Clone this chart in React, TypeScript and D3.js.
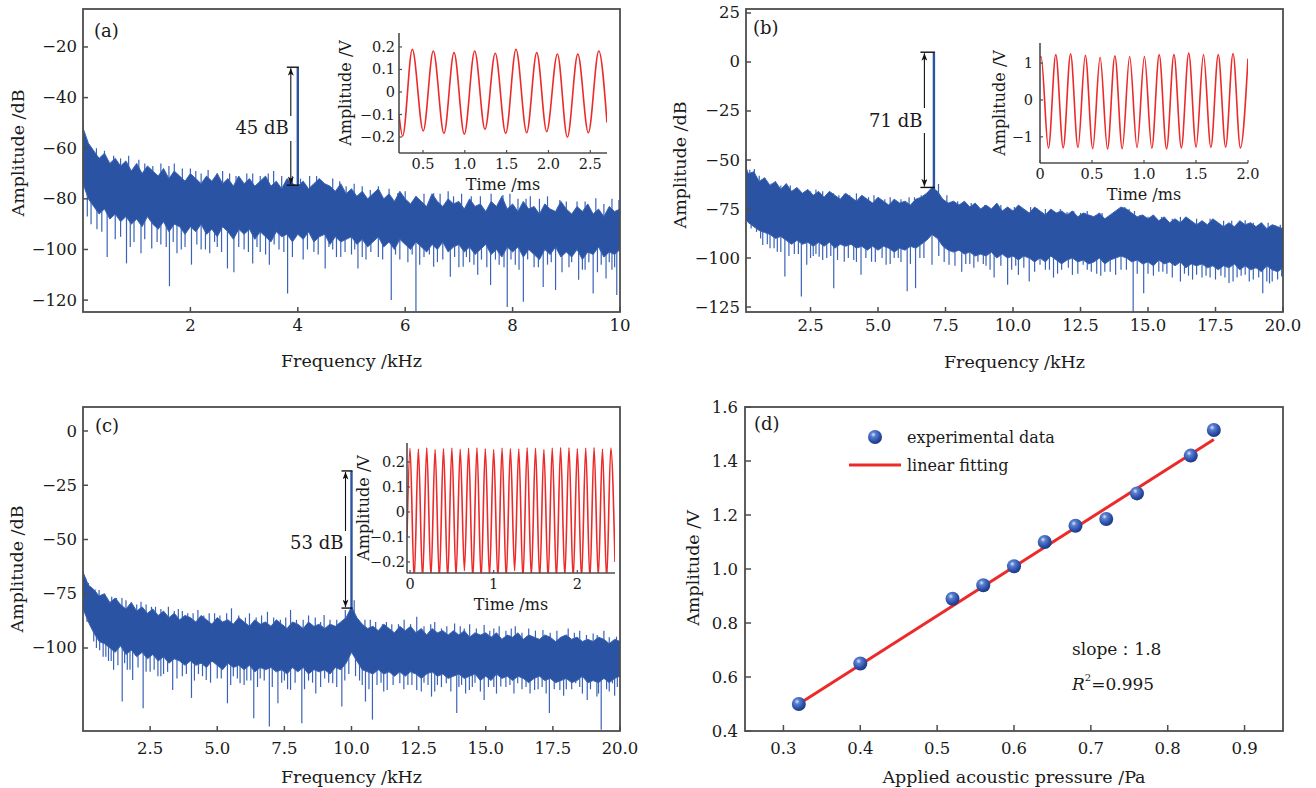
import React from 'react';
import * as d3 from 'd3';

// ---------------- DATA ----------------
// Panel (a): spectrum 0-10 kHz, dense-band envelope sampled every 0.1 kHz
const A_STEP = 0.1;
const A_TOP = [
  -52, -58, -61, -64, -62, -66, -64, -67, -65, -69,
  -66, -70, -67, -69, -71, -68, -72, -69, -71, -73,
  -70, -72, -74, -71, -73, -70, -74, -72, -75, -71,
  -74, -72, -75, -73, -71, -75, -73, -76, -72, -74,
  -75, -73, -76, -74, -72, -74, -75, -77, -74, -78,
  -76, -79, -77, -80, -78, -76, -80, -78, -81, -77,
  -80, -82, -79, -81, -83, -78, -81, -83, -80, -82,
  -81, -84, -80, -83, -82, -85, -81, -83, -79, -84,
  -82, -85, -81, -84, -83, -86, -82, -84, -85, -81,
  -84, -86, -83, -85, -82, -86, -84, -87, -83, -85,
  -84];
const A_BOT = [
  -74, -80, -83, -86, -84, -88, -86, -89, -87, -90,
  -88, -91, -87, -90, -92, -89, -93, -90, -91, -94,
  -91, -93, -90, -94, -92, -95, -91, -93, -96, -92,
  -94, -92, -96, -93, -95, -97, -93, -95, -94, -97,
  -94, -96, -93, -97, -95, -94, -98, -95, -97, -96,
  -95, -98, -96, -99, -97, -95, -99, -97, -100, -96,
  -98, -100, -97, -99, -101, -98, -100, -97, -101, -99,
  -98, -101, -99, -102, -100, -98, -102, -100, -103, -99,
  -101, -99, -103, -100, -102, -104, -100, -102, -99, -103,
  -101, -103, -100, -104, -101, -102, -99, -103, -101, -102,
  -100];
const A_DIPS: [number, number][] = [[0.08, -87], [0.26, -92], [0.45, -103], [0.81, -105.5], [1.08, -101.5], [1.28, -99.6], [1.61, -114.5], [1.75, -101.5], [2.02, -106], [2.36, -101.5], [2.69, -107.5], [2.81, -109], [3.16, -105.5], [3.47, -106], [3.81, -117.4], [4.1, -104], [4.51, -107.5], [4.8, -103], [5.12, -107.5], [5.27, -104], [5.74, -120], [6.2, -124.6], [6.53, -106.8], [6.84, -110.8], [7.08, -106.8], [7.35, -110], [7.59, -114], [7.9, -122.7], [8.2, -120.7], [8.57, -114.8], [8.8, -116], [9.23, -112], [9.5, -117.4], [9.74, -111.5], [9.94, -118],
  [0.6, -96], [0.95, -97], [1.45, -98], [1.9, -99], [2.2, -100], [2.5, -99], [3.0, -100], [3.3, -101], [3.65, -100], [4.3, -101], [4.65, -100], [5.0, -102], [5.5, -103], [5.9, -104], [6.35, -103], [6.7, -104], [7.2, -105], [7.75, -106], [8.05, -106], [8.4, -107], [8.65, -106], [9.05, -107], [9.35, -108], [9.65, -106], [9.85, -108],
  [0.15, -90], [0.35, -93], [0.7, -95], [0.88, -99], [1.15, -96], [1.38, -97], [1.55, -99], [1.68, -97], [1.83, -100], [2.12, -98], [2.28, -100], [2.45, -97], [2.58, -101], [2.9, -99], [3.08, -101], [3.24, -99], [3.4, -102], [3.56, -98], [3.74, -101], [3.9, -103], [4.18, -100], [4.38, -102], [4.58, -99], [4.72, -103], [4.88, -101], [5.06, -100], [5.2, -103], [5.36, -101], [5.58, -104], [5.82, -102], [6.05, -105], [6.13, -102], [6.27, -106], [6.45, -102], [6.6, -105], [6.92, -103], [7.0, -107], [7.14, -103], [7.28, -106], [7.42, -104], [7.52, -107], [7.68, -104], [7.84, -107], [7.97, -104], [8.12, -108], [8.28, -104], [8.48, -107], [8.72, -105], [8.92, -109], [9.1, -105], [9.3, -108], [9.42, -105], [9.58, -109], [9.8, -105], [9.9, -107]];
const A_SPIKES: [number, number][] = [[0.0, -49.4], [0.05, -56], [0.15, -60], [0.57, -63], [1.04, -64.6], [1.3, -67], [1.7, -66], [2.1, -69], [2.33, -68.6], [2.73, -70], [3.16, -70], [3.55, -69], [3.9, -71], [4.22, -71], [4.5, -74], [4.9, -75], [5.35, -76.5], [5.86, -77.8], [6.2, -79], [6.53, -77.8], [6.9, -79], [7.23, -79], [7.82, -78.5], [8.1, -80], [8.33, -79], [8.88, -80.5], [9.2, -81], [9.55, -79.8], [9.98, -80.5],
  [0.25, -60], [0.4, -61], [0.7, -64], [0.85, -63], [1.15, -66], [1.45, -66], [1.6, -67], [1.85, -68], [2.0, -68], [2.2, -70], [2.5, -70], [2.6, -69], [2.85, -71], [3.05, -70], [3.3, -71], [3.45, -70], [3.7, -71], [4.05, -72], [4.35, -71], [4.65, -72], [4.78, -73], [5.05, -74], [5.2, -75], [5.5, -75], [5.7, -76], [6.0, -77], [6.35, -78], [6.65, -78], [6.8, -77], [7.05, -78], [7.4, -79], [7.6, -78], [7.95, -78], [8.25, -80], [8.5, -80], [8.65, -79], [9.0, -81], [9.35, -81], [9.7, -82], [9.85, -80]];

// Panel (b): spectrum 0-20 kHz, envelope every 0.2 kHz
const B_STEP = 0.2;
const B_TOP = [
  -50, -57, -56, -61, -59, -63, -61, -65, -62, -66,
  -64, -67, -65, -68, -66, -69, -66, -68, -70, -67,
  -69, -71, -68, -70, -72, -69, -71, -73, -70, -72,
  -71, -73, -70, -69, -67, -64, -66, -70, -72, -71,
  -73, -71, -74, -72, -75, -73, -75, -72, -76, -74,
  -76, -73, -75, -77, -74, -76, -78, -75, -77, -76,
  -78, -76, -79, -77, -78, -79, -77, -80, -78, -76,
  -74, -75, -77, -79, -78, -80, -78, -81, -79, -82,
  -80, -82, -79, -81, -83, -81, -83, -80, -82, -84,
  -82, -84, -81, -83, -82, -84, -82, -85, -83, -84,
  -85];
const B_BOT = [
  -78, -82, -84, -86, -87, -88, -90, -89, -91, -93,
  -91, -93, -92, -94, -92, -94, -92, -95, -93, -94,
  -93, -95, -94, -96, -94, -96, -94, -95, -97, -95,
  -96, -94, -95, -93, -91, -88, -90, -94, -96, -97,
  -96, -98, -97, -99, -98, -99, -97, -100, -98, -100,
  -99, -101, -99, -100, -102, -100, -102, -99, -101, -103,
  -101, -100, -102, -101, -103, -102, -100, -103, -101, -100,
  -99, -100, -102, -101, -103, -102, -104, -101, -103, -102,
  -104, -102, -105, -103, -104, -103, -105, -104, -106, -104,
  -105, -103, -106, -104, -106, -105, -107, -104, -106, -107,
  -105];
const B_DIPS: [number, number][] = [[0.5, -86.7], [0.73, -93.4], [1.27, -96.8], [1.55, -109.5], [2.16, -119.6], [2.36, -103.5], [2.82, -99.3], [3.36, -115.4], [3.75, -101.9], [4.37, -108.6], [4.76, -101.9], [5.3, -103.5], [6.08, -117], [6.39, -115.4], [7.0, -103.5], [7.63, -103.5], [8.1, -107], [8.7, -101.9], [9.3, -110], [9.8, -113.7], [10.2, -108.6], [10.6, -112], [11.0, -103.5], [11.5, -110], [12.2, -108.6], [12.6, -103.5], [13.4, -107], [13.8, -108.6], [14.45, -127.5], [14.84, -118], [15.4, -107], [16.2, -112], [16.8, -108.6], [17.3, -110], [18.0, -112.8], [18.6, -108.6], [19.25, -118], [19.6, -112], [19.95, -109.5],
  [1.0, -95], [1.9, -98], [2.6, -99], [3.1, -100], [4.1, -101], [5.6, -100], [5.85, -102], [6.7, -100], [8.4, -103], [9.0, -104], [10.4, -105], [11.2, -106], [11.8, -106], [12.9, -107], [13.1, -108], [14.2, -106], [15.0, -108], [15.7, -108], [16.5, -109], [17.0, -110], [17.7, -109], [18.3, -110], [18.9, -111], [19.4, -112],
  [0.3, -85], [0.65, -90], [0.9, -93], [1.15, -95], [1.4, -97], [1.7, -99], [2.05, -98], [2.5, -100], [2.7, -98], [2.95, -101], [3.25, -99], [3.5, -101], [3.9, -100], [4.2, -102], [4.55, -100], [4.9, -102], [5.15, -100], [5.45, -103], [5.75, -100], [6.2, -103], [6.55, -100], [7.25, -99], [7.45, -102], [7.85, -104], [8.25, -103], [8.55, -105], [8.9, -103], [9.15, -106], [9.55, -104], [9.95, -106], [10.1, -104], [10.8, -107], [11.35, -106], [11.65, -108], [12.05, -105], [12.4, -108], [12.75, -106], [13.25, -109], [13.6, -107], [14.0, -106], [14.6, -108], [15.2, -109], [15.55, -107], [15.9, -110], [16.35, -108], [16.65, -111], [17.15, -109], [17.5, -111], [17.85, -110], [18.15, -112], [18.45, -109], [18.75, -112], [19.1, -110], [19.5, -113], [19.8, -111]];
const B_SPIKES: [number, number][] = [[0.12, -49.5], [0.25, -55], [0.42, -54.6], [1.04, -62], [1.58, -64.7], [2.28, -66.4], [3.13, -68], [3.75, -67.2], [4.4, -68.5], [5.0, -69.8], [5.6, -70], [6.15, -69], [6.85, -66.4], [7.24, -62.2], [7.78, -71.5], [8.2, -72], [8.7, -74.8], [9.3, -74], [9.8, -76.5], [10.4, -75], [10.9, -74.8], [11.5, -76], [12.0, -76.5], [12.5, -77], [13.05, -78], [13.6, -78], [14.14, -74], [14.3, -75], [14.7, -78], [15.2, -80.7], [15.9, -80], [16.5, -80], [17.0, -81], [17.55, -81.6], [18.1, -81], [18.6, -80.7], [19.2, -82], [19.7, -83.3],
  [0.6, -58], [0.8, -60], [1.2, -61], [1.4, -63], [1.75, -63], [2.0, -65], [2.5, -66], [2.7, -65], [2.95, -66], [3.35, -67], [3.55, -68], [3.95, -68], [4.2, -67], [4.65, -69], [4.85, -68], [5.25, -70], [5.45, -69], [5.85, -70], [6.35, -69], [6.6, -68], [7.05, -63], [7.55, -68], [7.95, -71], [8.45, -72], [8.95, -73], [9.55, -73], [10.05, -74], [10.65, -74], [11.2, -75], [11.75, -75], [12.25, -76], [12.75, -76], [13.3, -77], [13.85, -76], [14.5, -76], [15.0, -79], [15.5, -79], [16.2, -79], [16.8, -80], [17.3, -80], [17.8, -81], [18.4, -81], [18.9, -82], [19.45, -82], [19.9, -83]];

// Panel (c): spectrum 0-20 kHz, envelope every 0.2 kHz
const C_STEP = 0.2;
const C_TOP = [
  -65, -71, -73, -76, -75, -79, -77, -80, -82, -79,
  -83, -81, -84, -82, -85, -83, -86, -84, -87, -85,
  -86, -88, -85, -87, -89, -86, -88, -87, -89, -86,
  -88, -90, -87, -89, -88, -90, -87, -89, -91, -88,
  -89, -91, -88, -90, -89, -91, -89, -90, -88, -86,
  -81, -86, -89, -91, -90, -92, -89, -91, -93, -90,
  -92, -90, -93, -91, -94, -91, -93, -92, -94, -92,
  -94, -92, -95, -93, -94, -93, -95, -93, -96, -94,
  -95, -93, -96, -94, -95, -96, -94, -95, -97, -95,
  -94, -96, -95, -97, -96, -97, -95, -96, -98, -96,
  -97];
const C_BOT = [
  -82, -88, -93, -97, -98, -100, -102, -99, -103, -101,
  -104, -102, -105, -103, -106, -104, -107, -105, -106, -108,
  -106, -108, -107, -109, -106, -108, -110, -107, -109, -108,
  -110, -108, -111, -109, -110, -109, -111, -110, -112, -109,
  -111, -109, -112, -110, -111, -110, -112, -109, -110, -107,
  -102, -106, -110, -111, -112, -110, -112, -111, -113, -111,
  -113, -111, -112, -114, -112, -111, -113, -112, -114, -113,
  -112, -114, -113, -112, -115, -113, -115, -112, -114, -113,
  -115, -113, -114, -116, -114, -113, -115, -114, -116, -115,
  -114, -116, -115, -113, -116, -115, -116, -114, -116, -114,
  -113];
const C_DIPS: [number, number][] = [[0.28, -90], [0.75, -104], [1.14, -110], [1.46, -124.7], [1.85, -114.7], [2.24, -127.8], [2.79, -113], [3.34, -119.3], [4.04, -123], [4.59, -114.7], [5.38, -125.5], [5.85, -116.3], [6.36, -132.4], [6.94, -136.2], [7.26, -125.5], [7.73, -119.3], [8.15, -134.7], [8.67, -121], [9.3, -116.3], [9.64, -127], [10.52, -124.7], [10.78, -133], [11.33, -119.3], [11.8, -116.3], [12.43, -119.3], [12.98, -122.4], [13.53, -116.3], [13.92, -130], [14.39, -119.3], [14.94, -124], [15.56, -117.8], [16.19, -116.3], [16.82, -119.3], [17.37, -130], [17.76, -119.3], [18.35, -116.3], [18.78, -124], [19.14, -122.4], [19.3, -137.7], [19.72, -116.3],
  [0.5, -100], [0.95, -106], [1.65, -110], [2.5, -111], [3.0, -112], [3.7, -113], [4.3, -112], [5.0, -114], [5.6, -113], [6.1, -115], [6.6, -114], [7.5, -115], [8.4, -115], [9.0, -114], [9.9, -112], [10.3, -115], [11.1, -116], [12.1, -117], [12.7, -116], [13.2, -117], [14.1, -117], [14.6, -116], [15.3, -118], [15.9, -117], [16.5, -118], [17.1, -118], [18.0, -119], [18.5, -118], [19.5, -119], [19.9, -118],
  [0.15, -88], [0.4, -97], [0.62, -101], [0.85, -104], [1.05, -106], [1.3, -108], [1.55, -107], [1.75, -110], [2.05, -109], [2.35, -111], [2.65, -110], [2.9, -113], [3.15, -111], [3.5, -114], [3.85, -112], [4.15, -115], [4.45, -113], [4.75, -116], [5.15, -114], [5.5, -117], [5.75, -114], [6.0, -117], [6.25, -115], [6.5, -118], [6.75, -115], [7.05, -118], [7.4, -116], [7.62, -119], [7.9, -116], [8.25, -119], [8.55, -116], [8.85, -118], [9.15, -116], [9.45, -118], [9.75, -115], [10.15, -113], [10.4, -117], [10.65, -119], [10.95, -117], [11.2, -120], [11.55, -117], [11.95, -119], [12.25, -117], [12.6, -120], [12.85, -117], [13.1, -120], [13.35, -118], [13.7, -120], [14.0, -118], [14.25, -121], [14.5, -118], [14.8, -120], [15.1, -118], [15.4, -121], [15.75, -118], [16.05, -121], [16.35, -119], [16.65, -121], [16.95, -119], [17.25, -121], [17.55, -119], [17.9, -122], [18.2, -119], [18.6, -121], [18.9, -119], [19.2, -121], [19.6, -120], [19.8, -122]];
const C_SPIKES: [number, number][] = [[0.0, -64], [0.1, -68], [0.3, -72], [0.6, -73.3], [1.07, -76.4], [1.6, -78], [2.16, -78.7], [2.7, -81], [3.18, -81], [3.7, -83], [4.28, -82.5], [4.9, -84], [5.53, -81.7], [6.2, -84], [6.87, -83.3], [7.73, -82.5], [8.4, -85], [8.98, -84.8], [9.77, -82.5], [10.1, -78], [10.7, -87], [11.3, -88], [11.96, -87], [12.43, -85.6], [13.1, -88], [13.84, -88.7], [14.4, -89], [14.94, -89.4], [15.5, -90], [16.1, -90], [16.6, -91], [17.13, -91.7], [18.07, -91], [18.5, -92], [19.0, -93.3], [19.4, -92], [19.87, -94.8],
  [0.2, -70], [0.45, -73], [0.8, -75], [1.25, -77], [1.45, -77], [1.8, -79], [2.0, -80], [2.35, -80], [2.55, -81], [2.9, -82], [3.4, -83], [3.55, -82], [3.9, -84], [4.1, -84], [4.5, -85], [4.7, -84], [5.1, -85], [5.35, -84], [5.8, -85], [6.05, -86], [6.45, -86], [6.65, -85], [7.1, -86], [7.35, -87], [7.55, -86], [7.95, -87], [8.2, -87], [8.65, -86], [8.85, -88], [9.2, -87], [9.45, -87], [10.5, -87], [10.9, -88], [11.15, -89], [11.5, -89], [11.75, -89], [12.2, -89], [12.7, -90], [12.95, -89], [13.35, -91], [13.55, -90], [14.05, -90], [14.2, -91], [14.65, -91], [15.15, -92], [15.3, -91], [15.75, -92], [15.95, -91], [16.35, -93], [16.85, -92], [17.4, -93], [17.65, -92], [17.95, -94], [18.3, -93], [18.75, -94], [19.15, -94], [19.6, -95]];

// Signal peaks (a, b, c)
const PEAK_FREQ = [4.0, 7.07, 10.0];
const PEAK_TOP = [-28, 5, -18.4];
const PEAK_BASE = [-74.6, -64, -81.6];
const PEAK_LABEL = ['45 dB', '71 dB', '53 dB'];
const PEAK_LABEL_DB = [-52, -29.6, -51.6];

// Axis ticks
const A_XTICKS = [2, 4, 6, 8, 10];
const A_YTICKS = [-20, -40, -60, -80, -100, -120];
const B_XTICKS = [2.5, 5.0, 7.5, 10.0, 12.5, 15.0, 17.5, 20.0];
const B_YTICKS = [25, 0, -25, -50, -75, -100, -125];
const C_XTICKS = [2.5, 5.0, 7.5, 10.0, 12.5, 15.0, 17.5, 20.0];
const C_YTICKS = [0, -25, -50, -75, -100];

// Inset time signals (extrema of the waveform)
const A_WAVE_T = [0.213, 0.257, 0.372, 0.503, 0.623, 0.751, 0.871, 0.994, 1.118, 1.241, 1.364, 1.489, 1.612, 1.740, 1.860, 1.979, 2.107, 2.226, 2.351, 2.477, 2.602, 2.70];
const A_WAVE_V = [-0.102, -0.196, 0.19, -0.173, 0.182, -0.184, 0.175, -0.187, 0.182, -0.166, 0.172, -0.184, 0.19, -0.181, 0.175, -0.176, 0.169, -0.201, 0.168, -0.181, 0.182, -0.136];
const A_IN_XTICKS = [0.5, 1.0, 1.5, 2.0, 2.5];
const A_IN_XLAB = ['0.5', '1.0', '1.5', '2.0', '2.5'];
const A_IN_YTICKS = [0.2, 0.1, 0, -0.1, -0.2];
const A_IN_YLAB = ['0.2', '0.1', '0', '−0.1', '−0.2'];

const B_WAVE_T = [0, 0.010, 0.081, 0.152, 0.223, 0.294, 0.365, 0.436, 0.507, 0.578, 0.649, 0.720, 0.791, 0.862, 0.933, 1.004, 1.075, 1.146, 1.217, 1.288, 1.359, 1.430, 1.501, 1.572, 1.643, 1.714, 1.785, 1.856, 1.927, 2.0];
const B_WAVE_V = [1.14, 1.18, -1.31, 1.23, -1.30, 1.25, -1.29, 1.21, -1.32, 1.16, -1.33, 1.20, -1.32, 1.18, -1.29, 1.18, -1.31, 1.23, -1.33, 1.23, -1.30, 1.27, -1.28, 1.23, -1.29, 1.23, -1.28, 1.26, -1.30, 1.12];
const B_IN_XTICKS = [0, 0.5, 1.0, 1.5, 2.0];
const B_IN_XLAB = ['0', '0.5', '1.0', '1.5', '2.0'];
const B_IN_YTICKS = [1, 0, -1];
const B_IN_YLAB = ['1', '0', '−1'];

const C_WAVE_T = [-0.036, 0.0, 0.05, 0.1, 0.15, 0.2, 0.25, 0.3, 0.35, 0.4, 0.45, 0.5, 0.55, 0.6, 0.65, 0.7, 0.75, 0.8, 0.85, 0.9, 0.95, 1.0, 1.05, 1.1, 1.15, 1.2, 1.25, 1.3, 1.35, 1.4, 1.45, 1.5, 1.55, 1.6, 1.65, 1.7, 1.75, 1.8, 1.85, 1.9, 1.95, 2.0, 2.05, 2.1, 2.15, 2.2, 2.25, 2.3, 2.35, 2.4, 2.45];
const C_WAVE_V = [-0.10, 0.255, -0.27, 0.252, -0.27, 0.257, -0.26, 0.250, -0.27, 0.254, -0.27, 0.256, -0.26, 0.251, -0.235, 0.255, -0.27, 0.257, -0.27, 0.253, -0.26, 0.250, -0.27, 0.256, -0.27, 0.254, -0.235, 0.252, -0.27, 0.257, -0.26, 0.255, -0.27, 0.250, -0.27, 0.256, -0.27, 0.258, -0.26, 0.257, -0.27, 0.253, -0.27, 0.256, -0.27, 0.258, -0.26, 0.252, -0.27, 0.256, -0.20];
const C_IN_XTICKS = [0, 1, 2];
const C_IN_XLAB = ['0', '1', '2'];
const C_IN_YTICKS = [0.2, 0.1, 0, -0.1, -0.2];
const C_IN_YLAB = ['0.2', '0.1', '0', '−0.1', '−0.2'];

// Panel (d)
const D_PRESSURE = [0.32, 0.40, 0.52, 0.56, 0.60, 0.64, 0.68, 0.72, 0.76, 0.83, 0.86];
const D_AMPLITUDE = [0.50, 0.65, 0.89, 0.94, 1.01, 1.10, 1.16, 1.185, 1.28, 1.42, 1.515];
const D_FIT_X = [0.32, 0.86];
const D_FIT_Y = [0.50, 1.48];
const D_XTICKS = [0.3, 0.4, 0.5, 0.6, 0.7, 0.8, 0.9];
const D_YTICKS = [0.4, 0.6, 0.8, 1.0, 1.2, 1.4, 1.6];

// ---------------- STYLE ----------------
const FONT = "'DejaVu Serif', 'Liberation Serif', serif";
const BAND = '#2b53a3';
const LINE = '#3a63b8';
const RED = '#ec2a2a';
const FRAME = '#4d4d4d';
const TXT = '#1a1a1a';

type Box = { l: number; r: number; t: number; b: number };

const minus = (s: string) => s.replace('-', '−');

function SpecPanel(p: {
  box: Box; xd: [number, number]; yd: [number, number]; step: number; top: number[]; bot: number[];
  dips: [number, number][]; spikes: [number, number][]; xticks: number[]; xdec: number; yticks: number[];
  letter: string; letterPos: [number, number]; k: number; arrowDx: number; clipId: string;
  ylabX: number; ylabY: number; xlabY: number; xtickY: number;
}) {
  const { box, xd, yd, step, top, bot, dips, spikes, xticks, xdec, yticks, k, arrowDx, clipId } = p;
  const x = d3.scaleLinear().domain(xd).range([box.l, box.r]);
  const y = d3.scaleLinear().domain(yd).range([box.b, box.t]);
  const idx = d3.range(top.length);
  const area = d3.area<number>().x(i => x(i * step)).y0(i => y(bot[i])).y1(i => y(top[i]));
  const mid = (f: number) => {
    const fi = Math.max(0, f / step);
    const i = Math.min(top.length - 2, Math.floor(fi));
    const t = fi - i;
    const tp = top[i] * (1 - t) + top[i + 1] * t;
    const bt = bot[i] * (1 - t) + bot[i + 1] * t;
    return (tp + bt) / 2;
  };
  const px = x(PEAK_FREQ[k]);
  const ax = px - arrowDx;
  const yTop = y(PEAK_TOP[k]);
  const yBase = y(PEAK_BASE[k]);
  const ly = y(PEAK_LABEL_DB[k]);
  return (
    <g>
      <defs>
        <clipPath id={clipId}><rect x={box.l} y={box.t} width={box.r - box.l} height={box.b - box.t} /></clipPath>
      </defs>
      <g clipPath={`url(#${clipId})`}>
        {dips.map(([f, v], i) => (
          <line key={'d' + i} x1={x(f)} x2={x(f)} y1={y(mid(f))} y2={y(v)} stroke={LINE} strokeWidth={1.2} />
        ))}
        {spikes.map(([f, v], i) => (
          <line key={'s' + i} x1={x(f)} x2={x(f)} y1={y(mid(f))} y2={y(v)} stroke={LINE} strokeWidth={1.2} />
        ))}
        <path d={area(idx) || ''} fill={BAND} stroke={LINE} strokeWidth={1} strokeLinejoin="miter" />
        <line x1={px} x2={px} y1={y(mid(PEAK_FREQ[k]))} y2={yTop} stroke={BAND} strokeWidth={2.4} />
      </g>
      <rect x={box.l} y={box.t} width={box.r - box.l} height={box.b - box.t} fill="none" stroke={FRAME} strokeWidth={1.8} />
      {xticks.map((t, i) => (
        <g key={'xt' + i}>
          <line x1={x(t)} x2={x(t)} y1={box.b} y2={box.b - 5} stroke={FRAME} strokeWidth={1.5} />
          <text x={x(t)} y={p.xtickY} textAnchor="middle" dominantBaseline="central" fontSize={16.5} fill={TXT}>{t.toFixed(xdec)}</text>
        </g>
      ))}
      {yticks.map((t, i) => (
        <g key={'yt' + i}>
          <line x1={box.l} x2={box.l + 5} y1={y(t)} y2={y(t)} stroke={FRAME} strokeWidth={1.5} />
          <text x={box.l - 6} y={y(t)} textAnchor="end" dominantBaseline="central" fontSize={16.5} fill={TXT}>{minus(String(t))}</text>
        </g>
      ))}
      <text x={(box.l + box.r) / 2} y={p.xlabY} textAnchor="middle" dominantBaseline="central" fontSize={17.5} fill={TXT}>Frequency /kHz</text>
      <text transform={`translate(${p.ylabX},${p.ylabY}) rotate(-90)`} textAnchor="middle" dominantBaseline="central" fontSize={17.5} fill={TXT}>Amplitude /dB</text>
      <text x={p.letterPos[0]} y={p.letterPos[1]} dominantBaseline="central" fontSize={18} fill={TXT}>{p.letter}</text>
      {/* annotation */}
      <line x1={ax - 4} x2={px + 1} y1={yTop} y2={yTop} stroke="#111" strokeWidth={1.4} />
      <line x1={ax - 4} x2={px + 1} y1={yBase} y2={yBase} stroke="#111" strokeWidth={1.4} />
      <line x1={ax} x2={ax} y1={yTop + 1} y2={ly - 12} stroke="#111" strokeWidth={1.1} markerStart="url(#arrowHead)" />
      <line x1={ax} x2={ax} y1={ly + 13} y2={yBase - 1} stroke="#111" strokeWidth={1.1} markerEnd="url(#arrowHead)" />
      <text x={ax - 2} y={ly} textAnchor="end" dominantBaseline="central" fontSize={18} fill={TXT}>{PEAK_LABEL[k]}</text>
    </g>
  );
}

function Inset(p: {
  box: Box; xd: [number, number]; yd: [number, number]; tt: number[]; vv: number[];
  xticks: number[]; xlab: string[]; yticks: number[]; ylab: string[]; ylabX: number; clipId: string;
  ytickGap: number;
}) {
  const { box, xd, yd, tt, vv, clipId } = p;
  const x = d3.scaleLinear().domain(xd).range([box.l, box.r]);
  const y = d3.scaleLinear().domain(yd).range([box.b, box.t]);
  const line = d3.line<number>().x(i => x(tt[i])).y(i => y(vv[i])).curve(d3.curveMonotoneX);
  return (
    <g>
      <defs>
        <clipPath id={clipId}><rect x={box.l} y={box.t} width={box.r - box.l} height={box.b - box.t} /></clipPath>
      </defs>
      <path d={line(d3.range(tt.length)) || ''} fill="none" stroke={RED} strokeWidth={1.6} clipPath={`url(#${clipId})`} />
      <line x1={box.l} x2={box.l} y1={box.t} y2={box.b} stroke={FRAME} strokeWidth={1.6} />
      <line x1={box.l} x2={box.r} y1={box.b} y2={box.b} stroke={FRAME} strokeWidth={1.6} />
      {p.xticks.map((t, i) => (
        <g key={'x' + i}>
          <line x1={x(t)} x2={x(t)} y1={box.b} y2={box.b - 3} stroke={FRAME} strokeWidth={1.2} />
          <text x={x(t)} y={box.b + 11} textAnchor="middle" dominantBaseline="central" fontSize={14.5} fill={TXT}>{p.xlab[i]}</text>
        </g>
      ))}
      {p.yticks.map((t, i) => (
        <g key={'y' + i}>
          <line x1={box.l} x2={box.l + 3} y1={y(t)} y2={y(t)} stroke={FRAME} strokeWidth={1.2} />
          <text x={box.l - p.ytickGap} y={y(t)} textAnchor="end" dominantBaseline="central" fontSize={14.5} fill={TXT}>{p.ylab[i]}</text>
        </g>
      ))}
      <text x={(box.l + box.r) / 2} y={box.b + 31} textAnchor="middle" dominantBaseline="central" fontSize={16} fill={TXT}>Time /ms</text>
      <text transform={`translate(${p.ylabX},${(box.t + box.b) / 2}) rotate(-90)`} textAnchor="middle" dominantBaseline="central" fontSize={16} fill={TXT}>Amplitude /V</text>
    </g>
  );
}

function PanelD() {
  const box: Box = { l: 745, r: 1283, t: 407, b: 731 };
  const x = d3.scaleLinear().domain([0.25, 0.95]).range([box.l, box.r]);
  const y = d3.scaleLinear().domain([0.4, 1.6]).range([box.b, box.t]);
  const fit = d3.line<number>().x(i => x(D_FIT_X[i])).y(i => y(D_FIT_Y[i]));
  return (
    <g>
      <rect x={box.l} y={box.t} width={box.r - box.l} height={box.b - box.t} fill="none" stroke={FRAME} strokeWidth={1.8} />
      {D_XTICKS.map((t, i) => (
        <g key={'x' + i}>
          <line x1={x(t)} x2={x(t)} y1={box.b} y2={box.b - 6} stroke={FRAME} strokeWidth={1.5} />
          <text x={x(t)} y={748} textAnchor="middle" dominantBaseline="central" fontSize={16.5} fill={TXT}>{t.toFixed(1)}</text>
        </g>
      ))}
      {D_YTICKS.map((t, i) => (
        <g key={'y' + i}>
          <line x1={box.l} x2={box.l + 6} y1={y(t)} y2={y(t)} stroke={FRAME} strokeWidth={1.5} />
          <text x={box.l - 7} y={y(t)} textAnchor="end" dominantBaseline="central" fontSize={16.5} fill={TXT}>{t.toFixed(1)}</text>
        </g>
      ))}
      <path d={fit(d3.range(D_FIT_X.length)) || ''} stroke={RED} strokeWidth={3} fill="none" />
      {D_PRESSURE.map((pv, i) => (
        <circle key={'p' + i} cx={x(pv)} cy={y(D_AMPLITUDE[i])} r={7} fill="url(#sphere)" />
      ))}
      <text x={754} y={423} dominantBaseline="central" fontSize={18} fill={TXT}>(d)</text>
      <circle cx={875} cy={437} r={7} fill="url(#sphere)" />
      <text x={907} y={437} dominantBaseline="central" fontSize={16} fill={TXT}>experimental data</text>
      <line x1={849} x2={901} y1={465} y2={465} stroke={RED} strokeWidth={3} />
      <text x={907} y={465} dominantBaseline="central" fontSize={16} fill={TXT}>linear fitting</text>
      <text x={1072} y={649} dominantBaseline="central" fontSize={17} fill={TXT}>slope：1.8</text>
      <text x={1072} y={684} dominantBaseline="central" fontSize={17} fill={TXT}>
        <tspan fontStyle="italic">R</tspan>
        <tspan fontSize={10} dy={-7}>2</tspan>
        <tspan dy={7}>=0.995</tspan>
      </text>
      <text x={1014} y={777} textAnchor="middle" dominantBaseline="central" fontSize={17.5} fill={TXT}>Applied acoustic pressure /Pa</text>
      <text transform={`translate(693,568) rotate(-90)`} textAnchor="middle" dominantBaseline="central" fontSize={17.5} fill={TXT}>Amplitude /V</text>
    </g>
  );
}

export default function App() {
  return (
    <svg width={1316} height={788} style={{ position: 'absolute', left: 0, top: 0, background: '#fff' }} fontFamily={FONT}>
      <defs>
        <marker id="arrowHead" viewBox="0 0 10 8" refX={10} refY={4} markerWidth={8} markerHeight={6} markerUnits="userSpaceOnUse" orient="auto-start-reverse">
          <path d="M0,0 L10,4 L0,8 L2.5,4 Z" fill="#111" />
        </marker>
        <radialGradient id="sphere" cx="0.38" cy="0.33" r="0.7">
          <stop offset="0" stopColor="#dfe7fb" />
          <stop offset="0.25" stopColor="#5a80d0" />
          <stop offset="0.7" stopColor="#2a4ea6" />
          <stop offset="1" stopColor="#1a357f" />
        </radialGradient>
      </defs>
      <rect x={0} y={0} width={1316} height={788} fill="#fff" />

      <SpecPanel box={{ l: 83, r: 620, t: 9, b: 312 }} xd={[0, 10]} yd={[-124.7, -5]} step={A_STEP} top={A_TOP} bot={A_BOT}
        dips={A_DIPS} spikes={A_SPIKES} xticks={A_XTICKS} xdec={0} yticks={A_YTICKS} letter="(a)" letterPos={[94, 30]}
        k={0} arrowDx={7} clipId="clipA" ylabX={18} ylabY={153} xlabY={361} xtickY={325} />
      <Inset box={{ l: 399, r: 607, t: 33, b: 153 }} xd={[0.213, 2.70]} yd={[-0.271, 0.262]} tt={A_WAVE_T} vv={A_WAVE_V}
        xticks={A_IN_XTICKS} xlab={A_IN_XLAB} yticks={A_IN_YTICKS} ylab={A_IN_YLAB} ylabX={345} clipId="clipAi" ytickGap={4} />

      <SpecPanel box={{ l: 746, r: 1283, t: 9, b: 312 }} xd={[0.11, 20]} yd={[-127.55, 27.04]} step={B_STEP} top={B_TOP} bot={B_BOT}
        dips={B_DIPS} spikes={B_SPIKES} xticks={B_XTICKS} xdec={1} yticks={B_YTICKS} letter="(b)" letterPos={[753, 27]}
        k={1} arrowDx={9.5} clipId="clipB" ylabX={680} ylabY={165} xlabY={362} xtickY={325} />
      <Inset box={{ l: 1040, r: 1248, t: 43, b: 163 }} xd={[0, 2]} yd={[-1.71, 1.545]} tt={B_WAVE_T} vv={B_WAVE_V}
        xticks={B_IN_XTICKS} xlab={B_IN_XLAB} yticks={B_IN_YTICKS} ylab={B_IN_YLAB} ylabX={999} clipId="clipBi" ytickGap={7} />

      <SpecPanel box={{ l: 83, r: 620, t: 407, b: 731 }} xd={[0, 20]} yd={[-138.25, 11.06]} step={C_STEP} top={C_TOP} bot={C_BOT}
        dips={C_DIPS} spikes={C_SPIKES} xticks={C_XTICKS} xdec={1} yticks={C_YTICKS} letter="(c)" letterPos={[95, 425]}
        k={2} arrowDx={6} clipId="clipC" ylabX={17} ylabY={569} xlabY={777} xtickY={748} />
      <Inset box={{ l: 407, r: 615, t: 443, b: 573 }} xd={[-0.036, 2.45]} yd={[-0.244, 0.276]} tt={C_WAVE_T} vv={C_WAVE_V}
        xticks={C_IN_XTICKS} xlab={C_IN_XLAB} yticks={C_IN_YTICKS} ylab={C_IN_YLAB} ylabX={363} clipId="clipCi" ytickGap={2} />

      <PanelD />
    </svg>
  );
}
